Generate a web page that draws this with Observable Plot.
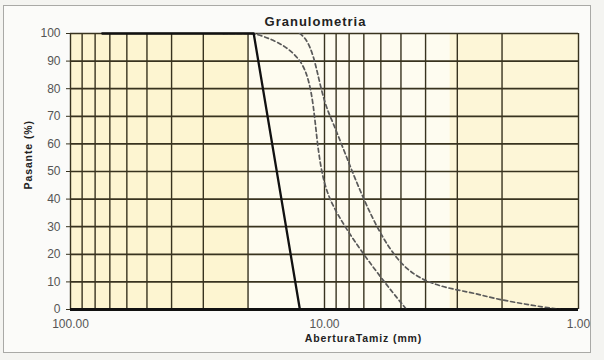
<!DOCTYPE html>
<html>
<head>
<meta charset="utf-8">
<script src="https://cdn.jsdelivr.net/npm/d3@7"></script>
<script src="https://cdn.jsdelivr.net/npm/@observablehq/plot@0.6"></script>
<style>
  html, body { margin: 0; padding: 0; background: #f4f4f1; }
  #wrap { position: relative; width: 604px; height: 360px; overflow: hidden; }
  #border { position: absolute; left: 3px; top: 5px; width: 586px; height: 346px; border: 1px solid #a9a9a6; background: #fbfbf9; }
  #chart { position: absolute; left: 0; top: 0; }
</style>
</head>
<body>
<div id="wrap"><div id="border"></div><div id="chart"></div></div>
<script>
// Sieve openings (mm)
const sizes = [75, 50, 37.5, 25, 19, 12.5, 9.5, 4.75, 2.36, 1.18];
// Sample (% passing)
const muestra = [100, 100, 100, 100, 100, 0, 0, 0, 0, 0];
// Specification limits (% passing)
const limiteInferior = [null, null, null, 100, 100, 90, 40, 0, null, null];
const limiteSuperior = [null, null, null, 100, 100, 100, 70, 15, 5, 0];
// Axes
const xTicks = [100, 10, 1];
const yTicks = [0, 10, 20, 30, 40, 50, 60, 70, 80, 90, 100];
const gridX = [100, 90, 80, 70, 60, 50, 40, 30, 20, 10, 9, 8, 7, 6, 5, 4, 3, 2, 1];

const series = (arr) => sizes.map((s, i) => ({x: s, y: arr[i]})).filter(d => d.y != null);

const gridColor = "#38331f";
const font = "'Liberation Sans', Arial, sans-serif";

const chart = Plot.plot({
  width: 604,
  height: 360,
  marginLeft: 70,
  marginRight: 26,
  marginTop: 33,
  marginBottom: 51,
  style: {background: "transparent", fontFamily: font, color: "#222"},
  x: {type: "log", domain: [100, 1]},
  y: {domain: [0, 100]},
  marks: [
    Plot.frame({fill: "#fefcf0", stroke: null}),
    Plot.rect([{a: 100, b: 20}], {x1: "a", x2: "b", y1: () => 0, y2: () => 100, fill: "#fbf0bc", fillOpacity: 0.6}),
    Plot.rect([{a: 3.2, b: 1}], {x1: "a", x2: "b", y1: () => 0, y2: () => 100, fill: "#fcf3cc", fillOpacity: 0.7}),
    Plot.ruleX(gridX, {stroke: gridColor, strokeWidth: 1.4}),
    Plot.ruleY(yTicks, {stroke: gridColor, strokeWidth: 1.7}),
    Plot.ruleY([0], {stroke: "#111", strokeWidth: 2.8}),
    Plot.axisY(yTicks, {tickSize: 4, tickPadding: 6, fontSize: 12, fill: "#555", stroke: gridColor, label: null}),
    Plot.axisX(xTicks, {tickSize: 0, tickPadding: 10, fontSize: 12, fill: "#555", tickFormat: d => d.toFixed(2), label: null}),
    Plot.line(series(limiteInferior), {x: "x", y: "y", curve: "catmull-rom", stroke: "#5a5a5a", strokeWidth: 1.7, strokeDasharray: "4,3", clip: true}),
    Plot.line(series(limiteSuperior), {x: "x", y: "y", curve: "catmull-rom", stroke: "#5a5a5a", strokeWidth: 1.7, strokeDasharray: "4,3", clip: true}),
    Plot.line(series(muestra), {x: "x", y: "y", stroke: "#111", strokeWidth: 2.3}),
    Plot.text(["Granulometria"], {frameAnchor: "top", dy: -17, dx: -9, fontWeight: "bold", fontSize: 13, fill: "#222"}),
    Plot.text(["AberturaTamiz (mm)"], {frameAnchor: "bottom", dy: 32, dx: 39, fontWeight: "bold", fontSize: 10.5, fill: "#222"}),
    Plot.text(["Pasante (%)"], {frameAnchor: "left", dx: -42, dy: 18, rotate: -90, fontWeight: "bold", fontSize: 10.5, fill: "#222"})
  ]
});

document.getElementById("chart").appendChild(chart);
d3.select(chart).selectAll("text").each(function() {
  const t = this.textContent;
  if (t === "Granulometria") d3.select(this).style("letter-spacing", "1px");
  if (t === "AberturaTamiz (mm)" || t === "Pasante (%)") d3.select(this).style("letter-spacing", "0.9px");
});
</script>
</body>
</html>
